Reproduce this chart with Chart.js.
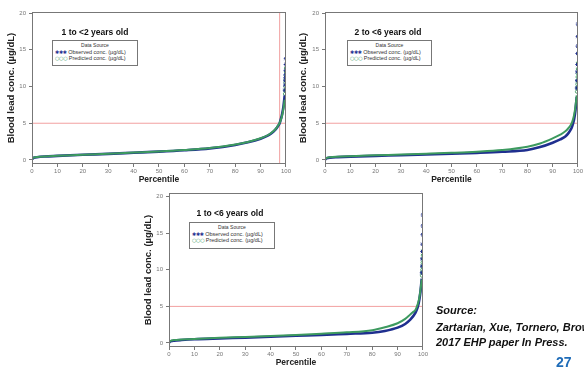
<!DOCTYPE html>
<html>
<head>
<meta charset="utf-8">
<script src="https://cdn.jsdelivr.net/npm/chart.js@4.4.0/dist/chart.umd.min.js"></script>
<style>
  body { margin: 0; width: 584px; height: 372px; overflow: hidden; background: #fff; position: relative;
         font-family: "Liberation Sans", Arial, sans-serif; }
  canvas { position: absolute; }
  .panel-title { position: absolute; font-weight: bold; font-size: 8.5px; color: #111; white-space: nowrap;
                 transform: translate(-50%, -50%); }
  .legend { position: absolute; box-sizing: border-box; border: 1px solid #777; background: #fff;
            font-size: 5.5px; line-height: 6.5px; color: #333; padding: 1px 2px; white-space: nowrap; }
  .legend .head { text-align: center; font-size: 5px; }
  .legend .obs, .legend .pred { font-family: "DejaVu Sans", sans-serif; font-size: 5px; letter-spacing: -0.3px; }
  .legend .obs { color: #1f2f8f; font-weight: bold; }
  .legend .pred { color: #3d9a5f; }
  .note { position: absolute; left: 436px; font-weight: bold; font-style: italic; font-size: 11px;
          color: #111; white-space: nowrap; transform: translateY(-50%); }
  .page { position: absolute; left: 556px; top: 355px; font-weight: bold; font-size: 14px; color: #1f6cb8; line-height: 14px; }
</style>
</head>
<body>
<canvas id="chart1to2" width="292" height="190" style="left:0;top:0"></canvas>
<canvas id="chart2to6" width="292" height="190" style="left:292px;top:0"></canvas>
<canvas id="chart1to6" width="292" height="191" style="left:137px;top:181px"></canvas>

<div class="panel-title" style="left:95px;top:32px">1 to &lt;2 years old</div>
<div class="panel-title" style="left:388px;top:32px">2 to &lt;6 years old</div>
<div class="panel-title" style="left:230px;top:213px">1 to &lt;6 years old</div>

<div class="legend" style="left:52px;top:40px;width:86px;height:26px">
  <div class="head">Data Source</div>
  <div><span class="obs">✱✱✱</span> Observed conc. (µg/dL)</div>
  <div><span class="pred">○○○</span> Predicted conc. (µg/dL)</div>
</div>
<div class="legend" style="left:347px;top:40px;width:85px;height:26px">
  <div class="head">Data Source</div>
  <div><span class="obs">✱✱✱</span> Observed conc. (µg/dL)</div>
  <div><span class="pred">○○○</span> Predicted conc. (µg/dL)</div>
</div>
<div class="legend" style="left:189px;top:222px;width:86px;height:27px">
  <div class="head">Data Source</div>
  <div><span class="obs">✱✱✱</span> Observed conc. (µg/dL)</div>
  <div><span class="pred">○○○</span> Predicted conc. (µg/dL)</div>
</div>

<div class="note" style="top:310px">Source:</div>
<div class="note" style="top:327px">Zartarian, Xue, Tornero, Brown</div>
<div class="note" style="top:342px">2017 EHP paper In Press.</div>
<div class="page">27</div>

<script>
// percentile grid shared by all curves
const percentiles = [0, 0.5, 1, 2, 5, 10, 20, 30, 40, 50, 60, 70, 80, 85, 90, 93, 95, 96, 97, 97.5, 98, 98.5, 99, 99.5];
// scattered top of the distribution
const tailPercentiles = [99.6, 99.7, 99.75, 99.8, 99.85, 99.9, 99.95, 100];

const obs1to2  = [0.1, 0.25, 0.32, 0.38, 0.47, 0.55, 0.7, 0.83, 0.98, 1.13, 1.32, 1.58, 2.05, 2.4, 2.9, 3.35, 3.85, 4.2, 4.7, 5.0, 5.6, 6.3, 7.3, 8.8];
const pred1to2 = [0.15, 0.3, 0.35, 0.4, 0.48, 0.56, 0.72, 0.85, 1.0, 1.15, 1.35, 1.62, 2.1, 2.45, 2.95, 3.4, 3.9, 4.25, 4.75, 5.05, 5.5, 6.1, 7.0, 8.2];
const tailObs1to2  = [9.5, 10.2, 10.8, 11.2, 11.6, 12.2, 13.0, 13.8];
const tailPred1to2 = [9.0, 9.5, 10.0, 10.6, 11.0, 11.5, 12.0, 12.5];

const obs2to6  = [0.05, 0.2, 0.27, 0.32, 0.38, 0.45, 0.55, 0.65, 0.75, 0.85, 0.97, 1.12, 1.35, 1.75, 2.35, 2.8, 3.2, 3.55, 4.05, 4.4, 4.9, 5.6, 6.8, 8.6];
const pred2to6 = [0.1, 0.25, 0.32, 0.38, 0.45, 0.52, 0.63, 0.74, 0.85, 0.97, 1.12, 1.35, 1.8, 2.25, 2.95, 3.45, 3.9, 4.25, 4.7, 5.0, 5.5, 6.2, 7.3, 8.8];
const tailObs2to6  = [9.8, 10.8, 12.0, 13.0, 14.5, 15.5, 16.8, 18.5];
const tailPred2to6 = [9.3, 9.8, 10.3, 10.8, 11.3, 11.8, 12.4, 13.2];

const obs1to6  = [0.05, 0.2, 0.27, 0.32, 0.4, 0.5, 0.62, 0.73, 0.85, 0.98, 1.1, 1.25, 1.4, 1.65, 2.1, 2.6, 3.2, 3.6, 4.1, 4.5, 5.0, 5.8, 7.0, 8.8];
const pred1to6 = [0.1, 0.27, 0.33, 0.4, 0.47, 0.56, 0.7, 0.82, 0.95, 1.1, 1.27, 1.45, 1.75, 2.15, 2.7, 3.3, 3.9, 4.2, 4.5, 4.9, 5.4, 6.1, 7.2, 8.7];
const tailObs1to6  = [9.6, 10.5, 11.5, 12.5, 13.5, 14.8, 16.0, 17.5];
const tailPred1to6 = [9.2, 9.6, 10.0, 10.5, 11.0, 11.5, 12.0, 12.6];

const xTicks = [0, 10, 20, 30, 40, 50, 60, 70, 80, 90, 100];
const yTicks = [0, 5, 10, 15, 20];
const referenceLevel = 5;        // µg/dL
const cutoffPercentile = 97.5;   // 1 to <2 panel only

const OBS_COLOR = '#1f2f8f';
const PRED_COLOR = '#3d9a5f';
const REF_COLOR = '#f2a0a0';
const AXIS_COLOR = '#777';

function toPoints(xs, ys) {
    return xs.map((x, i) => ({ x: x, y: ys[i] }));
}

// grey box round the plot area
const frameBox = {
    id: 'frameBox',
    afterDatasetsDraw(chart) {
        const { ctx, chartArea: a } = chart;
        ctx.save();
        ctx.strokeStyle = AXIS_COLOR;
        ctx.lineWidth = 1;
        ctx.strokeRect(Math.round(a.left) + 0.5, Math.round(a.top) + 0.5,
                       Math.round(a.right - a.left) - 1, Math.round(a.bottom - a.top) - 1);
        ctx.restore();
    }
};

function buildChart(canvasId, obs, pred, tailObs, tailPred, cfg) {
    const datasets = [
        {
            data: [{ x: 0, y: referenceLevel }, { x: 100, y: referenceLevel }],
            borderColor: REF_COLOR, borderWidth: 1, pointRadius: 0, order: 5
        },
        {
            data: toPoints(percentiles, obs),
            borderColor: OBS_COLOR, borderWidth: 2.6, pointRadius: 0,
            cubicInterpolationMode: 'monotone', order: 2
        },
        {
            data: toPoints(percentiles, pred),
            borderColor: PRED_COLOR, borderWidth: 2, pointRadius: 0,
            cubicInterpolationMode: 'monotone', order: 1
        },
        {
            data: toPoints(tailPercentiles, tailObs),
            showLine: false, pointStyle: 'star', pointRadius: 2.2,
            borderColor: OBS_COLOR, borderWidth: 1, order: 3
        },
        {
            data: toPoints(tailPercentiles, tailPred),
            showLine: false, pointStyle: 'circle', pointRadius: 1.6,
            borderColor: PRED_COLOR, backgroundColor: 'rgba(0,0,0,0)', borderWidth: 0.9, order: 3
        }
    ];
    if (cfg.cutoff) {
        datasets.push({
            data: [{ x: cfg.cutoff, y: cfg.yMin }, { x: cfg.cutoff, y: cfg.yMax }],
            borderColor: REF_COLOR, borderWidth: 1, pointRadius: 0, order: 5
        });
    }

    return new Chart(document.getElementById(canvasId), {
        type: 'line',
        data: { datasets: datasets },
        options: {
            responsive: false,
            animation: false,
            devicePixelRatio: 1,
            layout: { padding: { top: 12, right: cfg.padRight, left: 0, bottom: 0 } },
            plugins: { legend: { display: false }, tooltip: { enabled: false } },
            scales: {
                x: {
                    type: 'linear', min: 0, max: 100,
                    afterBuildTicks: s => { s.ticks = xTicks.map(v => ({ value: v })); },
                    afterFit: s => { s.height = cfg.xHeight; },
                    grid: { drawOnChartArea: false, drawTicks: true, tickLength: 3, color: AXIS_COLOR },
                    border: { display: false },
                    ticks: { color: '#777', font: { size: 6, family: 'Liberation Sans' }, padding: 1, maxRotation: 0 },
                    title: {
                        display: true, text: 'Percentile', color: '#222',
                        font: { size: 8.5, weight: 'bold', family: 'Liberation Sans' },
                        padding: { top: 0, bottom: cfg.xTitlePad }
                    }
                },
                y: {
                    type: 'linear', min: cfg.yMin, max: cfg.yMax,
                    afterBuildTicks: s => { s.ticks = yTicks.map(v => ({ value: v })); },
                    afterFit: s => { s.width = cfg.yWidth; },
                    grid: { drawOnChartArea: false, drawTicks: true, tickLength: 3, color: AXIS_COLOR },
                    border: { display: false },
                    ticks: { color: '#777', font: { size: 6, family: 'Liberation Sans' }, padding: 3 },
                    title: {
                        display: true, text: 'Blood lead conc. (µg/dL)', color: '#222',
                        font: { size: 9.5, weight: 'bold', family: 'Liberation Sans' },
                        padding: { top: 6, bottom: 0 }
                    }
                }
            }
        },
        plugins: [frameBox]
    });
}

buildChart('chart1to2', obs1to2, pred1to2, tailObs1to2, tailPred1to2,
    { cutoff: cutoffPercentile, yMin: -0.55, yMax: 20.15, padRight: 4, yWidth: 32, xHeight: 26, xTitlePad: 5 });
buildChart('chart2to6', obs2to6, pred2to6, tailObs2to6, tailPred2to6,
    { yMin: -0.55, yMax: 20.15, padRight: 3, yWidth: 33, xHeight: 26, xTitlePad: 5 });
buildChart('chart1to6', obs1to6, pred1to6, tailObs1to6, tailPred1to6,
    { yMin: -0.55, yMax: 20.5, padRight: 4, yWidth: 32, xHeight: 25, xTitlePad: 4 });
</script>
</body>
</html>
